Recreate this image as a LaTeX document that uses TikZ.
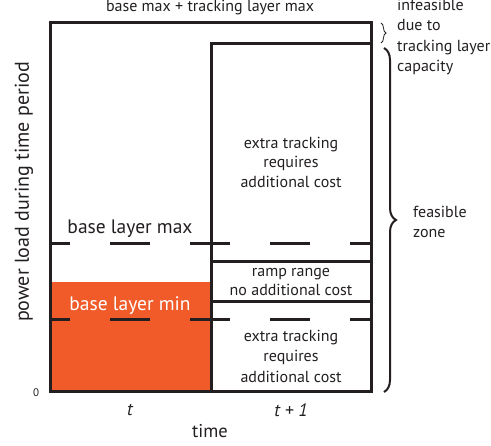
\documentclass[tikz,border=0pt]{standalone}
\usepackage{fontspec}
\setmainfont{PT Sans}
\usetikzlibrary{decorations.pathreplacing}
\definecolor{ink}{HTML}{231F20}
\definecolor{baseorange}{HTML}{F15A29}
\begin{document}
\begin{tikzpicture}[x=1pt,y=-1pt,
  frame/.style={draw=ink,line width=3pt},
  limitline/.style={draw=ink,line width=3pt,dash pattern=on 40pt off 40pt,dash phase=20pt},
  lbl/.style={text=ink,font=\fontsize{16}{19.5}\selectfont,align=center,inner sep=0pt},
  biglbl/.style={text=ink,font=\fontsize{19.5}{23}\selectfont,align=center,inner sep=0pt},
  axislbl/.style={text=ink,font=\fontsize{18.5}{22}\selectfont,inner sep=0pt},
  sidelbl/.style={text=ink,font=\fontsize{16}{20.5}\selectfont,align=left,anchor=west,inner sep=0pt},
  bracestyle/.style={draw=ink,decorate}]
\useasboundingbox (0,0) rectangle (491,446);

% corner coordinates of the columns
\coordinate (oTL) at (50,23);
\coordinate (oBR) at (371,392);
\coordinate (iTL) at (211,44);
\coordinate (rampTopL) at (211,262);
\coordinate (rampTopR) at (371,262);
\coordinate (rampBotL) at (211,302);
\coordinate (rampBotR) at (371,302);
\coordinate (maxL) at (50,244);
\coordinate (maxR) at (371,244);
\coordinate (minL) at (50,320);
\coordinate (minR) at (371,320);

% base layer minimum in period t
\fill[baseorange] (50,282) rectangle (211,392);

% outer and inner frames
\draw[frame] (oTL) rectangle (oBR);
\draw[frame] (iTL) rectangle (oBR);
\draw[frame] (rampTopL) -- (rampTopR);
\draw[frame] (rampBotL) -- (rampBotR);

% base layer limits
\draw[limitline] (maxL) -- (maxR);
\draw[limitline] (minL) -- (minR);

% labels
\node[lbl] (top) at (210,8) {base max + tracking layer max};
\node[biglbl] (bmax) at (130,229) {base layer max};
\node[biglbl,text=white] (bmin) at (130,306) {base layer min};
\node[lbl] (xtop) at (291,162) {extra tracking\\requires\\additional cost};
\node[lbl] (ramp) at (291,282) {ramp range\\no additional cost};
\node[lbl,font=\fontsize{16}{20.5}\selectfont] (xbot) at (291,356) {extra tracking\\requires\\additional cost};
\node[text=ink,font=\fontsize{11}{13}\selectfont,inner sep=0pt] (zero) at (36,393) {0};
\node[axislbl,font=\fontsize{18}{22}\itshape] (tt) at (130,410) {t};
\node[axislbl,font=\fontsize{18}{22}\itshape] (tt1) at (291,410) {t + 1};
\node[axislbl] (time) at (210,431) {time};
\node[axislbl,font=\fontsize{20}{22}\selectfont,rotate=90] (ylab) at (24,192) {power load during time period};

% right-hand braces
\coordinate (sbTop) at (381,23);
\coordinate (sbBot) at (381,43);
\coordinate (bbTop) at (384,48);
\coordinate (bbBot) at (384,392);
\draw[bracestyle,line width=0.8pt,decoration={brace,amplitude=5pt}] (sbTop) -- (sbBot);
\draw[bracestyle,line width=2pt,decoration={brace,amplitude=12pt}] (bbTop) -- (bbBot);
\node[sidelbl] (infeas) at (397,37) {infeasible\\due to\\tracking layer\\capacity};
\node[sidelbl] (feas) at (413,222) {feasible\\zone};
\end{tikzpicture}
\end{document}
